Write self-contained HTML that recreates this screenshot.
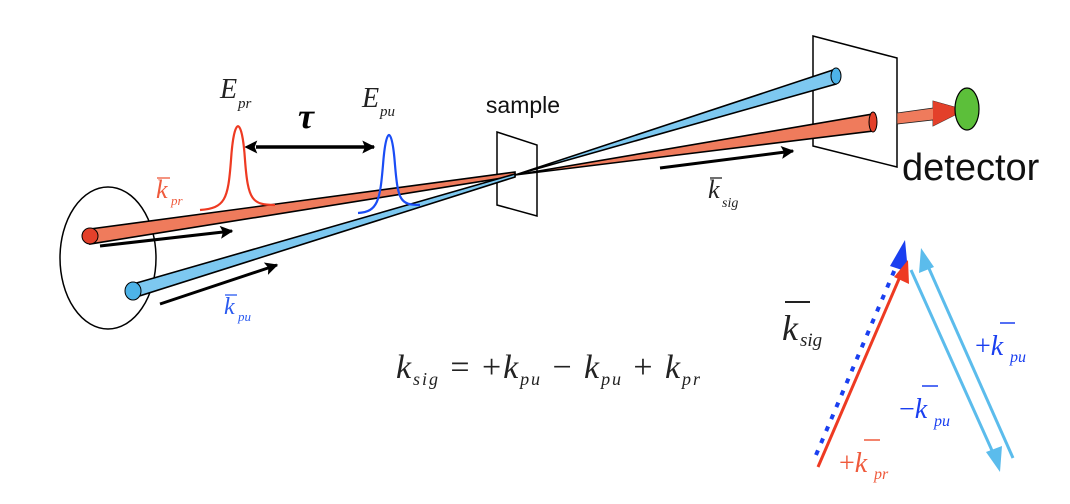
<!DOCTYPE html>
<html><head><meta charset="utf-8"><style>body{margin:0;background:#fff}svg{display:block}</style></head><body>
<svg width="1070" height="504" viewBox="0 0 1070 504" xmlns="http://www.w3.org/2000/svg" font-family="Liberation Serif, serif">
<defs>
<marker id="ab" viewBox="0 0 10 10" refX="9" refY="5" markerUnits="userSpaceOnUse" markerWidth="22" markerHeight="13" orient="auto"><path d="M0,0L10,5L0,10L2,5z" fill="#000"/></marker>
<marker id="ab2" viewBox="0 0 10 10" refX="1" refY="5" markerUnits="userSpaceOnUse" markerWidth="22" markerHeight="13" orient="auto-start-reverse"><path d="M0,0L10,5L0,10L2,5z" fill="#000"/></marker>
</defs>
<polygon points="497,132 537,145 537,216 497,205" fill="none" stroke="#000" stroke-width="1.5"/>
<ellipse cx="108" cy="258" rx="48" ry="71" fill="none" stroke="#000" stroke-width="1.5"/>
<polygon points="90,229 515,172 515,176 90,244" fill="#ef7b5c" stroke="#000" stroke-width="1.6"/>
<circle cx="90" cy="236" r="8" fill="#e3402a" stroke="#000" stroke-width="1"/>
<polygon points="133,284 515,174 515,177 133,298" fill="#7dc8f0" stroke="#000" stroke-width="1.6"/>
<ellipse cx="133" cy="291" rx="8" ry="9" fill="#4db3e8" stroke="#000" stroke-width="1"/>
<polygon points="813,36 897,58 897,167 813,146" fill="#fff" stroke="#000" stroke-width="1.5"/>
<polygon points="515,175 836,69 836,84" fill="#7dc8f0" stroke="#000" stroke-width="1.6"/>
<ellipse cx="836" cy="76" rx="5" ry="8" fill="#4db3e8" stroke="#000" stroke-width="1"/>
<polygon points="515,175 873,114 873,131" fill="#ef7b5c" stroke="#000" stroke-width="1.6"/>
<ellipse cx="873" cy="122" rx="4" ry="10" fill="#e3402a" stroke="#000" stroke-width="1"/>
<polygon points="897,113 933,108 933,101 965,110 933,126 933,120 897,124" fill="#ef7b5c" stroke="#222" stroke-width="0.8"/>
<polygon points="933,101 965,110 933,126" fill="#e3402a"/>
<ellipse cx="967" cy="109" rx="12" ry="21" fill="#5cbf3a" stroke="#000" stroke-width="1.2"/>
<line x1="100" y1="246" x2="232" y2="231" stroke="#000" stroke-width="3" marker-end="url(#ab)"/>
<line x1="160" y1="304" x2="277" y2="265" stroke="#000" stroke-width="3" marker-end="url(#ab)"/>
<line x1="660" y1="168" x2="793" y2="151" stroke="#000" stroke-width="3" marker-end="url(#ab)"/>
<line x1="256" y1="147" x2="374" y2="147" stroke="#000" stroke-width="3.5" marker-start="url(#ab2)" marker-end="url(#ab)"/>
<path d="M200,210 C225,208 228,200 231,160 C234,115 242,115 245,160 C248,200 252,205 275,205" fill="none" stroke="#ee3a22" stroke-width="2.2"/>
<path d="M358,213 C378,212 380,200 383,165 C386,125 392,125 395,165 C398,200 400,205 420,205" fill="none" stroke="#1a4df5" stroke-width="2.2"/>
<text x="220" y="98" font-size="28" font-style="italic" fill="#222">E</text><text x="238" y="108" font-size="15" font-style="italic" fill="#222">pr</text>
<text x="362" y="107" font-size="28" font-style="italic" fill="#222">E</text><text x="380" y="116" font-size="15" font-style="italic" fill="#222">pu</text>
<text x="298" y="128" font-size="36" font-style="italic" font-weight="bold">τ</text>
<text x="523" y="113" font-size="23" text-anchor="middle" font-family="Liberation Sans, sans-serif" fill="#111">sample</text>
<text x="902" y="180" font-size="38" font-family="Liberation Sans, sans-serif" fill="#111">detector</text>
<g fill="#ef5a3c" font-style="italic"><line x1="157" y1="178" x2="170" y2="178" stroke="#ef5a3c" stroke-width="1.3"/><text x="156" y="198" font-size="26">k</text><text x="171" y="205" font-size="13">pr</text></g>
<g fill="#2a5af0" font-style="italic"><line x1="225" y1="295" x2="237" y2="295" stroke="#2a5af0" stroke-width="1.3"/><text x="224" y="314" font-size="24">k</text><text x="238" y="321" font-size="13">pu</text></g>
<g fill="#222" font-style="italic"><line x1="710" y1="178" x2="722" y2="178" stroke="#222" stroke-width="1.3"/><text x="708" y="198" font-size="26">k</text><text x="722" y="207" font-size="14">sig</text></g>
<text x="396" y="378" font-size="34" fill="#222" textLength="304" lengthAdjust="spacing"><tspan font-style="italic">k</tspan><tspan font-size="18" dy="7" font-style="italic">sig</tspan><tspan dy="-7"> = +</tspan><tspan font-style="italic">k</tspan><tspan font-size="18" dy="7" font-style="italic">pu</tspan><tspan dy="-7"> − </tspan><tspan font-style="italic">k</tspan><tspan font-size="18" dy="7" font-style="italic">pu</tspan><tspan dy="-7"> + </tspan><tspan font-style="italic">k</tspan><tspan font-size="18" dy="7" font-style="italic">pr</tspan></text>
<line x1="816" y1="455" x2="898" y2="262" stroke="#1a3ff0" stroke-width="4" stroke-dasharray="5,8"/>
<polygon points="905,240 908,272 890,266" fill="#1a3ff0"/>
<line x1="818" y1="467" x2="902" y2="272" stroke="#ee3a22" stroke-width="3"/>
<polygon points="908,260 909,284 894,277" fill="#ee3a22"/>
<line x1="911" y1="270" x2="994" y2="455" stroke="#5bbcec" stroke-width="3"/>
<polygon points="1000,472 986,452 1002,446" fill="#5bbcec"/>
<line x1="1013" y1="458" x2="927" y2="264" stroke="#5bbcec" stroke-width="3"/>
<polygon points="921,248 934,267 919,273" fill="#5bbcec"/>
<g fill="#222" font-style="italic"><line x1="785" y1="302" x2="810" y2="302" stroke="#222" stroke-width="2"/><text x="782" y="340" font-size="36">k</text><text x="800" y="346" font-size="19">sig</text></g>
<g fill="#1a3ff0" font-style="italic"><line x1="1000" y1="323" x2="1015" y2="323" stroke="#1a3ff0" stroke-width="1.5"/><text x="975" y="355" font-size="28"><tspan font-style="normal">+</tspan>k</text><text x="1010" y="362" font-size="16">pu</text></g>
<g fill="#1a3ff0" font-style="italic"><line x1="922" y1="386" x2="938" y2="386" stroke="#1a3ff0" stroke-width="1.5"/><text x="899" y="418" font-size="28"><tspan font-style="normal">−</tspan>k</text><text x="934" y="426" font-size="16">pu</text></g>
<g fill="#ef5a3c" font-style="italic"><line x1="864" y1="440" x2="880" y2="440" stroke="#ef5a3c" stroke-width="1.5"/><text x="839" y="472" font-size="28"><tspan font-style="normal">+</tspan>k</text><text x="874" y="479" font-size="16">pr</text></g>
</svg>
</body></html>
